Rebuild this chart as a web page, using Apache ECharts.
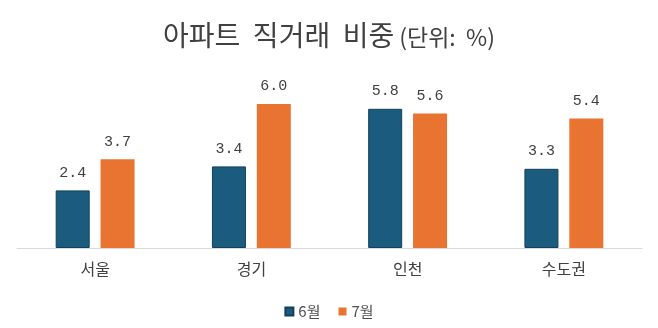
<!DOCTYPE html>
<html><head><meta charset="utf-8">
<script src="https://cdn.jsdelivr.net/npm/echarts@6/dist/echarts.min.js"></script>
<style>html,body{margin:0;padding:0;background:#fff}#c{width:658px;height:328px}</style>
</head><body><div id="c"></div>
<script>
const categories = ['서울', '경기', '인천', '수도권'];
const june = [2.4, 3.4, 5.8, 3.3];
const july = [3.7, 6.0, 5.6, 5.4];
const seriesNames = ['6월', '7월'];

const chart = echarts.init(document.getElementById('c'));
const labelStyle = {show: true, position: 'top', distance: 10, fontFamily: '"Liberation Mono", "DejaVu Sans Mono", monospace', fontSize: 15, color: '#404040', formatter: p => p.value.toFixed(1)};
chart.setOption({
  animation: false,
  title: {
    text: '{a|아파트  직거래  비중}{b|(단위:  %)}',
    left: 'center', top: 16,
    textStyle: {fontWeight: 'normal', rich: {
      a: {fontFamily: '"Noto Sans CJK KR", sans-serif', fontSize: 28, fontWeight: 'normal', color: '#404040'},
      b: {fontFamily: '"Noto Sans CJK KR", sans-serif', fontSize: 23, fontWeight: 'normal', color: '#404040', padding: [4,0,0,5]}
    }}
  },
  legend: {
    data: seriesNames, bottom: 4, left: 'center', itemWidth: 8, itemHeight: 8, icon: 'rect', itemGap: 18,
    textStyle: {fontFamily: '"Noto Sans CJK KR", sans-serif', fontSize: 15, color: '#505050'}
  },
  grid: {left: 17, right: 16, top: 80, bottom: 80},
  xAxis: {
    type: 'category', data: categories,
    axisLine: {lineStyle: {color: '#d9d9d9'}}, axisTick: {show: false},
    axisLabel: {fontFamily: '"Noto Sans CJK KR", sans-serif', fontSize: 16, color: '#404040', margin: 13}
  },
  yAxis: {type: 'value', min: 0, max: 7, show: false, splitLine: {show: false}},
  series: [
    {name: seriesNames[0], type: 'bar', data: june, barWidth: 34, barGap: '32%', itemStyle: {color: '#1a5b7e', borderColor: '#12405a', borderWidth: 1}, label: labelStyle},
    {name: seriesNames[1], type: 'bar', data: july, barWidth: 34, itemStyle: {color: '#e97331'}, label: labelStyle}
  ]
});
</script></body></html>
